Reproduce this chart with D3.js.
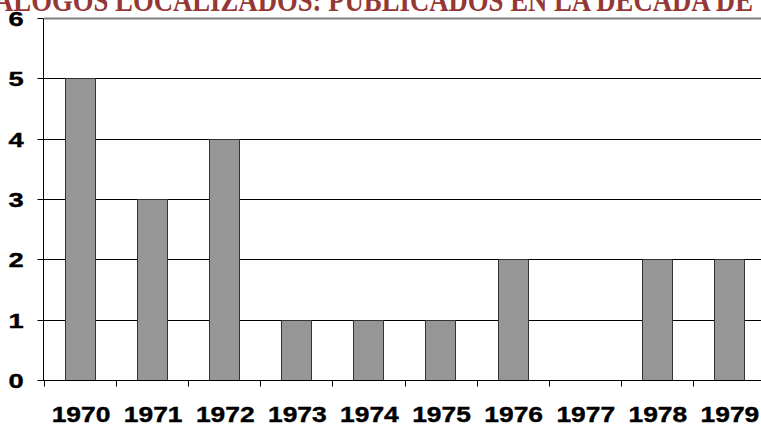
<!DOCTYPE html>
<html>
<head>
<meta charset="utf-8">
<script src="https://cdn.jsdelivr.net/npm/d3@7"></script>
<style>
  html, body { margin: 0; padding: 0; background: #fff; overflow: hidden; }
  svg { display: block; }
</style>
</head>
<body>
<div id="chart"></div>
<script>
const titleText = "ÁLOGOS LOCALIZADOS: PUBLICADOS EN LA DÉCADA DE";
const years = ["1970", "1971", "1972", "1973", "1974", "1975", "1976", "1977", "1978", "1979"];
const counts = [5, 3, 4, 1, 1, 1, 2, 0, 2, 2];
const yTicks = [0, 1, 2, 3, 4, 5, 6];

const width = 761, height = 425;
const plotLeft = 44, plotRight = 765, plotTop = 18, plotBottom = 380;

const svg = d3.select("#chart").append("svg")
    .attr("width", width)
    .attr("height", height);

const x = d3.scaleBand().domain(years).range([plotLeft, plotRight]);
const y = d3.scaleLinear().domain([0, 6]).range([plotBottom, plotTop]);
const barW = x.bandwidth() * 0.42;

// title, cut off by the top edge
svg.append("text")
    .attr("x", -6)
    .attr("y", 11)
    .attr("textLength", 759)
    .attr("lengthAdjust", "spacingAndGlyphs")
    .style("font-family", "'Liberation Serif', 'DejaVu Serif', serif")
    .style("font-weight", "bold")
    .style("font-size", "32px")
    .style("fill", "#953735")
    .text(titleText);

// gridlines
svg.selectAll("line.grid")
    .data(yTicks.filter(d => d > 0))
    .enter()
    .append("line")
    .attr("class", "grid")
    .attr("x1", plotLeft)
    .attr("x2", width)
    .attr("y1", d => Math.round(y(d)) + 0.5)
    .attr("y2", d => Math.round(y(d)) + 0.5)
    .style("stroke", d => d === 6 ? "#808080" : "#000")
    .style("stroke-width", d => d === 6 ? 2 : 1);

// bars
svg.selectAll("rect.bar")
    .data(years.map((yr, i) => ({ yr, v: counts[i] })).filter(d => d.v > 0))
    .enter()
    .append("rect")
    .attr("class", "bar")
    .attr("x", d => Math.round(x(d.yr) + (x.bandwidth() - barW) / 2) + 0.5)
    .attr("y", d => Math.round(y(d.v)) + 0.5)
    .attr("width", Math.round(barW))
    .attr("height", d => Math.round(y(0)) - Math.round(y(d.v)))
    .style("fill", "#969696")
    .style("stroke", "#333")
    .style("stroke-width", 1);

// y axis
const yAxis = svg.append("g")
    .attr("transform", `translate(${plotLeft - 0.5},0.5)`)
    .call(d3.axisLeft(y).tickValues(yTicks).tickSize(6).tickFormat(""));
yAxis.select(".domain").attr("d", `M0,${Math.round(y(6))}V${Math.round(y(0))}`).style("stroke", "#000");
yAxis.selectAll(".tick line").style("stroke", "#000");
yAxis.selectAll(".tick").attr("transform", d => `translate(0,${Math.round(y(d))})`);

svg.selectAll("text.ylab")
    .data(yTicks)
    .enter()
    .append("text")
    .attr("class", "ylab")
    .attr("transform", d => `translate(16,${y(d) + 8}) scale(1.3,1)`)
    .attr("text-anchor", "middle")
    .style("font-family", "'Liberation Sans', Arial, sans-serif")
    .style("font-weight", "bold")
    .style("font-size", "21px")
    .style("stroke", "#000")
    .style("stroke-width", 0.4)
    .text(d => d);

// x axis
const xAxis = svg.append("g")
    .attr("transform", `translate(0,${Math.round(y(0)) + 0.5})`);
xAxis.append("line")
    .attr("x1", plotLeft - 6).attr("x2", width)
    .style("stroke", "#000");
xAxis.selectAll("line.tick")
    .data(years)
    .enter()
    .append("line")
    .attr("class", "tick")
    .attr("x1", d => Math.round(x(d)) + 0.5)
    .attr("x2", d => Math.round(x(d)) + 0.5)
    .attr("y1", 0).attr("y2", 6)
    .style("stroke", "#000");

svg.selectAll("text.xlab")
    .data(years)
    .enter()
    .append("text")
    .attr("class", "xlab")
    .attr("transform", d => `translate(${x(d) + x.bandwidth() / 2 + 1},422) scale(1.2,1)`)
    .attr("text-anchor", "middle")
    .style("font-family", "'Liberation Sans', Arial, sans-serif")
    .style("font-weight", "bold")
    .style("font-size", "22px")
    .style("stroke", "#000")
    .style("stroke-width", 0.4)
    .text(d => d);
</script>
</body>
</html>
